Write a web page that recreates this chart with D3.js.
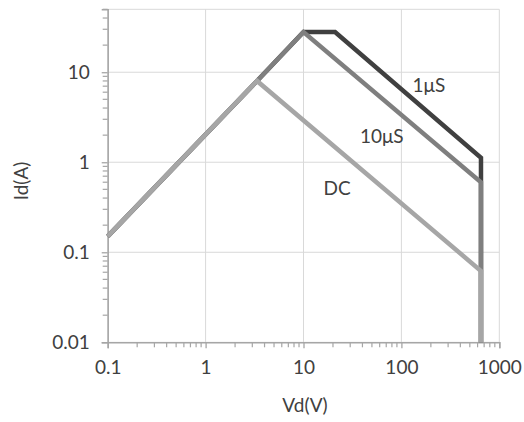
<!DOCTYPE html>
<html><head><meta charset="utf-8">
<script src="https://cdn.jsdelivr.net/npm/d3@7"></script>
<style>
html,body{margin:0;padding:0;background:#fff;}
text{font-family:Lato,"Open Sans",sans-serif;fill:#404040;}
</style></head>
<body><svg id="c" width="524" height="422"></svg>
<script>
// Data (Vd in V, Id in A)
const seriesNames = ["1μS", "10μS", "DC"];
const vd1us  = [0.1, 3.35, 10, 21, 650, 650];
const id1us  = [0.15, 8, 28, 28, 1.12, 0.01];
const vd10us = [0.1, 3.35, 10, 650, 650];
const id10us = [0.15, 8, 28, 0.6, 0.01];
const vdDC   = [0.1, 3.35, 650, 650];
const idDC   = [0.15, 8, 0.062, 0.01];
const xTicks = [0.1, 1, 10, 100, 1000];
const xTickLabels = ["0.1", "1", "10", "100", "1000"];
const yTicks = [0.01, 0.1, 1, 10];
const yTickLabels = ["0.01", "0.1", "1", "10"];
const xDomain = [0.1, 1000];
const yDomain = [0.01, 50];
// Label anchor points (data coords)
const labelVd = [191, 63, 22];
const labelId = [6.0, 1.64, 0.43];

const svg = d3.select("#c");
const L = 107.7, R = 499.3, T = 9.3, B = 342.3;
const x = d3.scaleLog().domain(xDomain).range([L, R]);
const y = d3.scaleLog().domain(yDomain).range([B, T]);

const gridColor = "#d9d9d9", axisColor = "#a6a6a6";
const FS = 19;

// gridlines
const g = svg.append("g");
xTicks.forEach(v => g.append("line").attr("x1", x(v)).attr("x2", x(v)).attr("y1", T).attr("y2", B)
  .attr("stroke", gridColor).attr("stroke-width", 1));
yTicks.concat([yDomain[1]]).forEach(v => g.append("line").attr("x1", L).attr("x2", R).attr("y1", y(v)).attr("y2", y(v))
  .attr("stroke", gridColor).attr("stroke-width", 1));

// minor ticks
function minors(lo, hi) {
  const out = [];
  for (let d = Math.floor(Math.log10(lo)); d <= Math.ceil(Math.log10(hi)); d++) {
    for (let k = 2; k <= 9; k++) { const v = k * Math.pow(10, d); if (v > lo && v <= hi) out.push(v); }
  }
  return out;
}
// X axis
const xAxis = d3.axisBottom(x).tickValues(xTicks).tickFormat((d, i) => xTickLabels[i]).tickSize(6).tickPadding(12);
const xa = svg.append("g").attr("transform", `translate(0,${B})`).call(xAxis);
xa.select(".domain").attr("stroke", axisColor).attr("stroke-width", 1.5);
xa.selectAll(".tick line").attr("stroke", axisColor).attr("stroke-width", 1.3);
xa.selectAll("text").attr("font-size", FS).attr("font-family", "Lato").attr("fill", "#404040");
xa.append("g").selectAll("line").data(minors(xDomain[0], xDomain[1])).join("line")
  .attr("x1", d => x(d)).attr("x2", d => x(d)).attr("y1", 0).attr("y2", 5)
  .attr("stroke", axisColor).attr("stroke-width", 1.2);

// Y axis
const yAxis = d3.axisLeft(y).tickValues(yTicks).tickFormat((d, i) => yTickLabels[i]).tickSize(6).tickPadding(12);
const ya = svg.append("g").attr("transform", `translate(${L},0)`).call(yAxis);
ya.select(".domain").attr("stroke", axisColor).attr("stroke-width", 1.5);
ya.selectAll(".tick line").attr("stroke", axisColor).attr("stroke-width", 1.3);
ya.selectAll("text").attr("font-size", FS).attr("font-family", "Lato").attr("fill", "#404040");
ya.append("g").selectAll("line").data(minors(yDomain[0], yDomain[1])).join("line")
  .attr("x1", 0).attr("x2", -5).attr("y1", d => y(d)).attr("y2", d => y(d))
  .attr("stroke", axisColor).attr("stroke-width", 1.2);

// series
const line = d3.line().x(d => x(d[0])).y(d => y(d[1]));
const series = [
  {vd: vd1us, id: id1us, color: "#404040"},
  {vd: vd10us, id: id10us, color: "#7f7f7f"},
  {vd: vdDC, id: idDC, color: "#a6a6a6"}
];
series.forEach(s => {
  svg.append("path").datum(s.vd.map((v, i) => [v, s.id[i]]))
    .attr("d", line).attr("fill", "none").attr("stroke", s.color)
    .attr("stroke-width", 4.5).attr("stroke-linejoin", "miter");
});

// series labels
seriesNames.forEach((n, i) => {
  svg.append("text").attr("x", x(labelVd[i])).attr("y", y(labelId[i]))
    .attr("text-anchor", "middle").attr("font-size", FS).text(n);
});

// axis titles
svg.append("text").attr("x", 305).attr("y", 412).attr("text-anchor", "middle").attr("font-size", FS).text("Vd(V)");
svg.append("text").attr("transform", "translate(28,181) rotate(-90)").attr("text-anchor", "middle").attr("font-size", FS).text("Id(A)");
</script></body></html>
